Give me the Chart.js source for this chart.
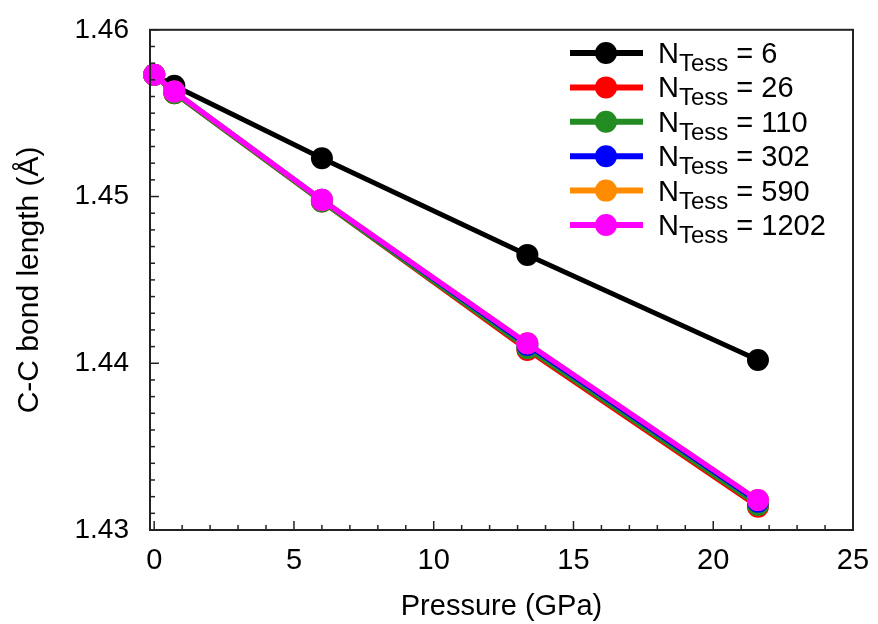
<!DOCTYPE html>
<html lang="en">
<head>
    <meta charset="UTF-8">
    <title>C-C bond length vs pressure</title>
    <script src="https://cdn.jsdelivr.net/npm/chart.js"></script>
    <style>
        body {
            margin: 0;
            background: #ffffff;
        }
        .chart-container {
            position: relative;
            width: 878px;
            height: 624px;
        }
    </style>
</head>
<body>
    <div class="chart-container">
        <canvas id="bondChart"></canvas>
    </div>

    <script>
        // pressure points (GPa)
        const pressure = [0, 0.72, 6.0, 13.35, 21.6];

        // C-C bond length (Å) per tessellation
        const tess6    = [1.4573, 1.45665, 1.4523, 1.4465, 1.4402];
        const tess26   = [1.4573, 1.4562, 1.4497, 1.4408, 1.4314];
        const tess110  = [1.4573, 1.4562, 1.4497, 1.4409, 1.4315];
        const tess302  = [1.4573, 1.4563, 1.4498, 1.4411, 1.4317];
        const tess590  = [1.4573, 1.4563, 1.4498, 1.4412, 1.4318];
        const tess1202 = [1.4573, 1.4563, 1.4498, 1.4412, 1.4318];

        const seriesNames = ['6', '26', '110', '302', '590', '1202'];
        const seriesValues = [tess6, tess26, tess110, tess302, tess590, tess1202];
        const seriesColors = ['#000000', '#ff0000', '#228b22', '#0000ff', '#ff8c00', '#ff00ff'];

        const xTicks = [0, 5, 10, 15, 20, 25];
        const yTicks = [1.43, 1.44, 1.45, 1.46];

        const FONT = '"Liberation Sans", Arial, sans-serif';

        const datasets = seriesValues.map((vals, i) => ({
            label: 'N_Tess = ' + seriesNames[i],
            data: pressure.map((p, j) => ({ x: p, y: vals[j] })),
            borderColor: seriesColors[i],
            backgroundColor: seriesColors[i],
            borderWidth: 5,
            pointRadius: 11,
            pointBorderWidth: 0,
            pointHoverRadius: 11,
            clip: false,
            order: seriesValues.length - i
        }));

        // inward tick marks + box frame
        const framePlugin = {
            id: 'frame',
            afterDatasetsDraw(chart) {
                const ctx = chart.ctx;
                const a = chart.chartArea;
                const xs = chart.scales.x;
                const ys = chart.scales.y;
                ctx.save();
                ctx.strokeStyle = '#222222';
                ctx.lineWidth = 1.5;
                for (let v = 0; v <= 25; v += 1) {
                    const px = xs.getPixelForValue(v);
                    const len = v % 5 === 0 ? 9 : 5;
                    ctx.beginPath();
                    ctx.moveTo(px, a.bottom);
                    ctx.lineTo(px, a.bottom - len);
                    ctx.stroke();
                }
                for (let k = 0; k <= 30; k++) {
                    const v = 1.43 + k * 0.001;
                    const py = ys.getPixelForValue(v);
                    const len = k % 10 === 0 ? 9 : 5;
                    ctx.beginPath();
                    ctx.moveTo(a.left, py);
                    ctx.lineTo(a.left + len, py);
                    ctx.stroke();
                }
                ctx.lineWidth = 2;
                ctx.strokeRect(a.left, a.top, a.right - a.left, a.bottom - a.top);
                ctx.restore();
            }
        };

        // legend with subscript text
        const legendPlugin = {
            id: 'subLegend',
            afterDraw(chart) {
                const ctx = chart.ctx;
                ctx.save();
                seriesNames.forEach((name, i) => {
                    const cy = 53 + i * 34.4;
                    ctx.strokeStyle = seriesColors[i];
                    ctx.fillStyle = seriesColors[i];
                    ctx.lineWidth = 6;
                    ctx.beginPath();
                    ctx.moveTo(570, cy);
                    ctx.lineTo(643, cy);
                    ctx.stroke();
                    ctx.beginPath();
                    ctx.arc(606, cy, 11, 0, Math.PI * 2);
                    ctx.fill();

                    ctx.fillStyle = '#000000';
                    ctx.textBaseline = 'alphabetic';
                    ctx.textAlign = 'left';
                    ctx.font = '29px ' + FONT;
                    ctx.fillText('N', 658, cy + 10);
                    const nw = ctx.measureText('N').width;
                    ctx.font = '24px ' + FONT;
                    ctx.fillText('Tess', 658 + nw, cy + 18);
                    const tw = ctx.measureText('Tess').width;
                    ctx.font = '29px ' + FONT;
                    ctx.fillText(' = ' + name, 658 + nw + tw, cy + 10);
                });
                ctx.restore();
            }
        };

        new Chart(document.getElementById('bondChart'), {
            type: 'line',
            data: { datasets: datasets },
            options: {
                responsive: true,
                maintainAspectRatio: false,
                animation: false,
                layout: { padding: { top: 28, right: 25, left: 0, bottom: 0 } },
                plugins: {
                    legend: { display: false },
                    tooltip: { enabled: false }
                },
                scales: {
                    x: {
                        type: 'linear',
                        min: -0.15,
                        max: 25,
                        afterBuildTicks: (s) => { s.ticks = xTicks.map(v => ({ value: v })); },
                        afterFit: (s) => { s.height = 94; },
                        grid: { display: false },
                        border: { display: false },
                        ticks: {
                            color: '#000000',
                            font: { family: FONT, size: 29 },
                            padding: 6,
                            maxRotation: 0,
                            callback: (v) => String(v)
                        },
                        title: {
                            display: true,
                            text: 'Pressure (GPa)',
                            color: '#000000',
                            font: { family: FONT, size: 29 },
                            padding: { top: 14, bottom: 0 }
                        }
                    },
                    y: {
                        type: 'linear',
                        min: 1.43,
                        max: 1.46,
                        afterBuildTicks: (s) => { s.ticks = yTicks.map(v => ({ value: v })); },
                        afterFit: (s) => { s.width = 150; },
                        grid: { display: false },
                        border: { display: false },
                        ticks: {
                            color: '#000000',
                            font: { family: FONT, size: 28 },
                            padding: 13,
                            callback: (v) => v.toFixed(2)
                        },
                        title: {
                            display: true,
                            text: 'C-C bond length (Å)',
                            color: '#000000',
                            font: { family: FONT, size: 30 },
                            padding: { top: 12, bottom: 0 }
                        }
                    }
                }
            },
            plugins: [framePlugin, legendPlugin]
        });
    </script>
</body>
</html>
